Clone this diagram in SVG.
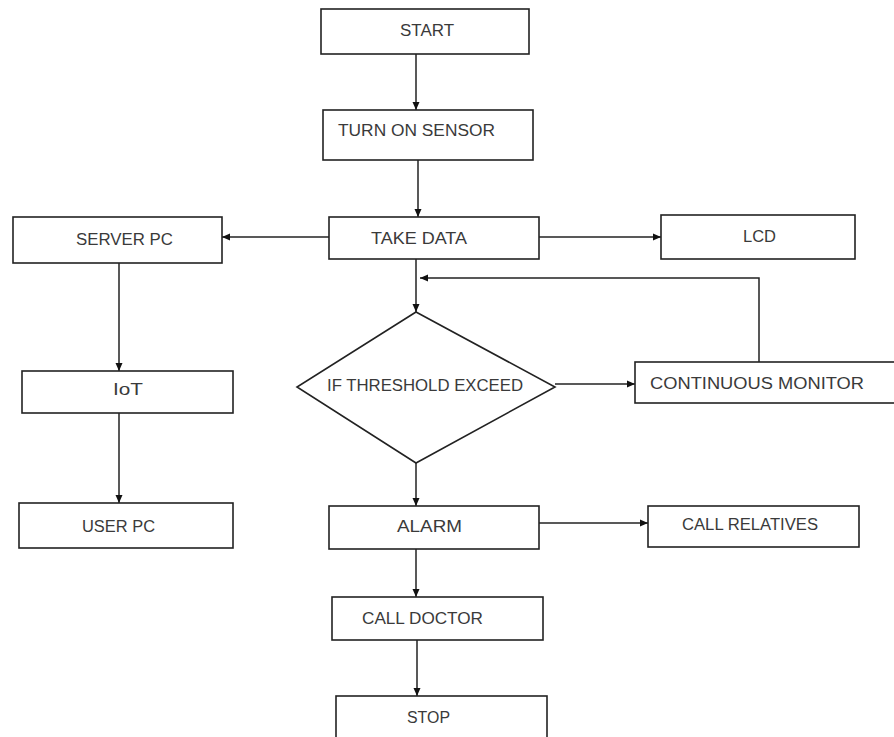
<svg xmlns="http://www.w3.org/2000/svg" width="894" height="737" viewBox="0 0 894 737">
<style>
.box{fill:#fff;stroke:#222;stroke-width:1.6}
.lbl{font-family:"Liberation Sans",Arial,sans-serif;font-size:16px;fill:#3a3a3a}
.ln{fill:none;stroke:#222;stroke-width:1.5}
</style>
<defs>
<marker id="ah" markerWidth="8" markerHeight="8" refX="8" refY="4" orient="auto" markerUnits="userSpaceOnUse">
<path d="M0,0.5 L8,4 L0,7.5 Z" fill="#111"/>
</marker>
</defs>
<rect width="894" height="737" fill="#fff"/>
<g id="connectors">
<line class="ln" x1="416" y1="54" x2="416" y2="110" marker-end="url(#ah)"/>
<line class="ln" x1="418" y1="160" x2="418" y2="217" marker-end="url(#ah)"/>
<line class="ln" x1="329" y1="237" x2="222" y2="237" marker-end="url(#ah)"/>
<line class="ln" x1="539" y1="237" x2="661" y2="237" marker-end="url(#ah)"/>
<line class="ln" x1="416" y1="259" x2="416" y2="312" marker-end="url(#ah)"/>
<polyline class="ln" points="759,362 759,278 420,278" marker-end="url(#ah)"/>
<line class="ln" x1="555" y1="384" x2="635" y2="384" marker-end="url(#ah)"/>
<line class="ln" x1="119" y1="263" x2="119" y2="371" marker-end="url(#ah)"/>
<line class="ln" x1="119" y1="413" x2="119" y2="503" marker-end="url(#ah)"/>
<line class="ln" x1="416" y1="463" x2="416" y2="506" marker-end="url(#ah)"/>
<line class="ln" x1="539" y1="523" x2="648" y2="523" marker-end="url(#ah)"/>
<line class="ln" x1="416" y1="549" x2="416" y2="597" marker-end="url(#ah)"/>
<line class="ln" x1="417" y1="640" x2="417" y2="696" marker-end="url(#ah)"/>
</g>
<g id="start"><rect class="box" x="321" y="9" width="208" height="45"/><text class="lbl" x="400" y="36" textLength="54" lengthAdjust="spacingAndGlyphs">START</text></g>
<g id="turn-on-sensor"><rect class="box" x="323" y="110" width="210" height="50"/><text class="lbl" x="338" y="136" textLength="157" lengthAdjust="spacingAndGlyphs">TURN ON SENSOR</text></g>
<g id="take-data"><rect class="box" x="329" y="217" width="210" height="42"/><text class="lbl" x="371" y="244" textLength="96" lengthAdjust="spacingAndGlyphs">TAKE DATA</text></g>
<g id="server-pc"><rect class="box" x="13" y="217" width="209" height="46"/><text class="lbl" x="76" y="245" textLength="97" lengthAdjust="spacingAndGlyphs">SERVER PC</text></g>
<g id="lcd"><rect class="box" x="661" y="215" width="194" height="44"/><text class="lbl" x="743" y="242" textLength="33" lengthAdjust="spacingAndGlyphs">LCD</text></g>
<g id="threshold"><polygon class="box" points="416,312 555,387 416,463 297,387"/><text class="lbl" x="327" y="391" textLength="196" lengthAdjust="spacingAndGlyphs">IF THRESHOLD EXCEED</text></g>
<g id="continuous-monitor"><rect class="box" x="635" y="362" width="270" height="41"/><text class="lbl" x="650" y="389" textLength="214" lengthAdjust="spacingAndGlyphs">CONTINUOUS MONITOR</text></g>
<g id="iot"><rect class="box" x="22" y="371" width="211" height="42"/><text class="lbl" x="113" y="395" textLength="30" lengthAdjust="spacingAndGlyphs">IoT</text></g>
<g id="user-pc"><rect class="box" x="19" y="503" width="214" height="45"/><text class="lbl" x="82" y="532" textLength="73" lengthAdjust="spacingAndGlyphs">USER PC</text></g>
<g id="alarm"><rect class="box" x="329" y="506" width="210" height="43"/><text class="lbl" x="397" y="532" textLength="65" lengthAdjust="spacingAndGlyphs">ALARM</text></g>
<g id="call-relatives"><rect class="box" x="648" y="506" width="211" height="41"/><text class="lbl" x="682" y="530" textLength="136" lengthAdjust="spacingAndGlyphs">CALL RELATIVES</text></g>
<g id="call-doctor"><rect class="box" x="332" y="597" width="211" height="43"/><text class="lbl" x="362" y="624" textLength="121" lengthAdjust="spacingAndGlyphs">CALL DOCTOR</text></g>
<g id="stop"><rect class="box" x="336" y="696" width="211" height="60"/><text class="lbl" x="407" y="723" textLength="43" lengthAdjust="spacingAndGlyphs">STOP</text></g>
</svg>
